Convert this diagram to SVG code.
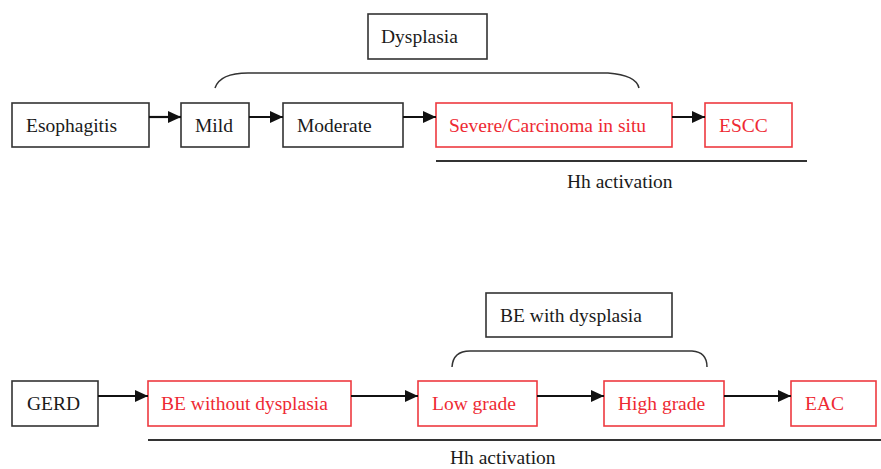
<svg xmlns="http://www.w3.org/2000/svg" width="881" height="469" viewBox="0 0 881 469">
<style>
  text { font-family: "Liberation Serif", "Times New Roman", serif; font-size: 19.5px; }
  .blk rect { fill: #fff; stroke: #333; stroke-width: 1.6; }
  .blk text { fill: #1a1a1a; }
  .red rect { fill: #fff; stroke: #ee3a40; stroke-width: 1.6; }
  .red text { fill: #ee2a33; }
  .conn line { stroke: #111; stroke-width: 2.2; }
  .brace { fill: none; stroke: #333; stroke-width: 1.5; }
  .bar { stroke: #333; stroke-width: 2; }
  .lbl { fill: #1a1a1a; }
</style>
<defs>
  <marker id="ah" markerUnits="userSpaceOnUse" markerWidth="14" markerHeight="14" viewBox="0 0 14 14" refX="13" refY="7" orient="auto">
    <path d="M0,1 L13,7 L0,13 Z" fill="#111"/>
  </marker>
</defs>
<rect width="881" height="469" fill="#fff"/>

<!-- Top row -->
<g id="dysplasia" class="blk"><rect x="368" y="14" width="119" height="45"/><text x="381" y="43">Dysplasia</text></g>
<g id="esophagitis" class="blk"><rect x="12" y="103" width="137" height="44"/><text x="26" y="132">Esophagitis</text></g>
<g id="mild" class="blk"><rect x="181" y="103" width="68" height="44"/><text x="195" y="132">Mild</text></g>
<g id="moderate" class="blk"><rect x="283" y="103" width="120" height="44"/><text x="297" y="132">Moderate</text></g>
<g id="severe" class="red"><rect x="436" y="103" width="236" height="44"/><text x="449" y="132">Severe/Carcinoma in situ</text></g>
<g id="escc" class="red"><rect x="705" y="103" width="87" height="44"/><text x="719" y="132">ESCC</text></g>

<!-- Bottom row -->
<g id="be-dysplasia" class="blk"><rect x="486" y="293" width="186" height="44"/><text x="500" y="322">BE with dysplasia</text></g>
<g id="gerd" class="blk"><rect x="12" y="381" width="86" height="45"/><text x="27" y="410">GERD</text></g>
<g id="be-without" class="red"><rect x="148" y="381" width="203" height="45"/><text x="161" y="410">BE without dysplasia</text></g>
<g id="low-grade" class="red"><rect x="418" y="381" width="119" height="45"/><text x="432" y="410">Low grade</text></g>
<g id="high-grade" class="red"><rect x="604" y="381" width="120" height="45"/><text x="618" y="410">High grade</text></g>
<g id="eac" class="red"><rect x="791" y="381" width="85" height="45"/><text x="805" y="410">EAC</text></g>

<g id="connectors" class="conn">
  <line x1="149" y1="117" x2="181" y2="117" marker-end="url(#ah)"/>
  <line x1="249" y1="117" x2="283" y2="117" marker-end="url(#ah)"/>
  <line x1="403" y1="117" x2="436" y2="117" marker-end="url(#ah)"/>
  <line x1="672" y1="117" x2="705" y2="117" marker-end="url(#ah)"/>
  <line x1="98" y1="396" x2="148" y2="396" marker-end="url(#ah)"/>
  <line x1="351" y1="396" x2="418" y2="396" marker-end="url(#ah)"/>
  <line x1="537" y1="396" x2="604" y2="396" marker-end="url(#ah)"/>
  <line x1="724" y1="396" x2="791" y2="396" marker-end="url(#ah)"/>
</g>

<g id="annotations">
  <path class="brace" d="M215,88 Q220,73 248,73 L608,73 Q636,75 639,88"/>
  <line class="bar" x1="436" y1="161" x2="807" y2="161"/>
  <text class="lbl" x="567" y="188">Hh activation</text>
  <path class="brace" d="M452,367 Q453,351 470,351 L692,351 Q707,352 707,367"/>
  <line class="bar" x1="148" y1="440" x2="881" y2="440"/>
  <text class="lbl" x="450" y="464">Hh activation</text>
</g>
</svg>
